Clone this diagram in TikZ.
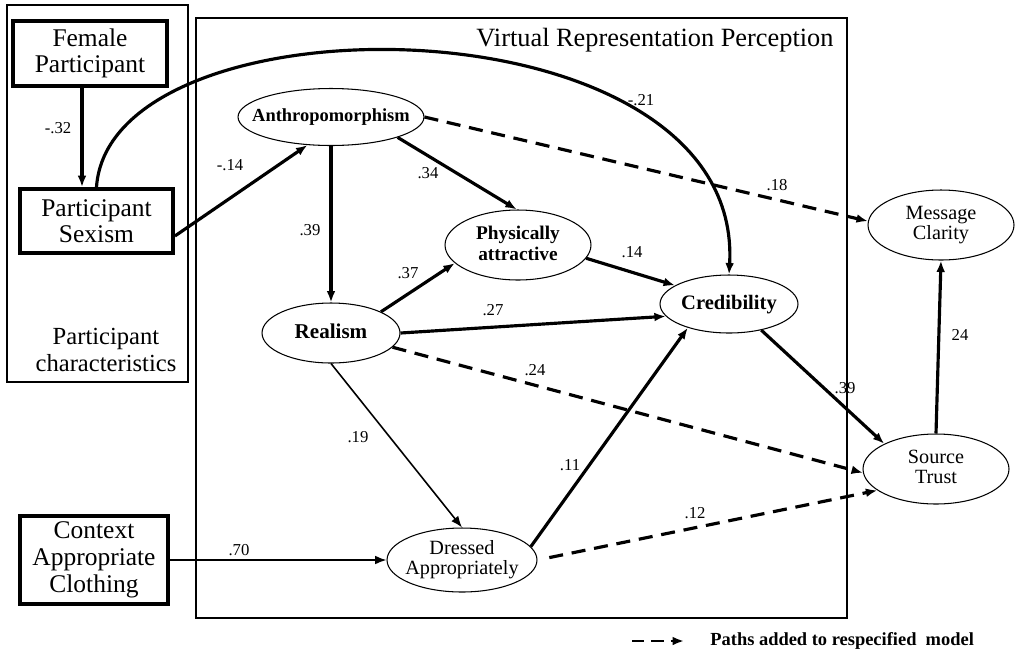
\documentclass[tikz,border=0pt]{standalone}
\usepackage{fontspec}
\setmainfont{Liberation Serif}
\usetikzlibrary{arrows.meta,calc,shapes.geometric}
\newcommand{\ztxt}[1]{\makebox[0pt]{\smash{\raisebox{-.3em}{\begin{tabular}{@{}c@{}}#1\end{tabular}}}}}
\begin{document}
\begin{tikzpicture}[x=0.02cm,y=-0.02cm,
 box/.style={draw,line width=2.2pt,align=center,inner sep=0,font=\fontsize{14.5}{14.5}\selectfont},
 ell/.style={draw,ellipse,line width=0.6pt,inner sep=0,font=\fontsize{11.5}{11.5}\selectfont},
 ellb/.style={ell,font=\fontsize{11}{11.5}\selectfont\bfseries},
 lab/.style={font=\fontsize{9.5}{9.5}\selectfont,inner sep=0},
 tip/.style={-{Latex[length=6.5pt,width=5pt]}},
 thk/.style={tip,line width=1.8pt},
 thn/.style={tip,line width=0.9pt},
 dsh/.style={tip,line width=1.8pt,dash pattern=on 8pt off 5pt},
 frame/.style={draw,line width=0.8pt}
]
\useasboundingbox (0,0) rectangle (1017,650);
% frames
\draw[frame] (7,5) rectangle (188,382);
\draw[frame] (196,18) rectangle (847,618);
\node[font=\fontsize{15}{15}\selectfont,inner sep=0] (title) at (655,40) {Virtual Representation Perception};
\node[font=\fontsize{14}{15}\selectfont,align=center,inner sep=0] (pc) at (106,350) {Participant\\characteristics};
% boxes
\node[box,minimum width=3.08cm,minimum height=1.3cm] (fem) at (90,53.5) {Female\\Participant};
\node[box,minimum width=3.06cm,minimum height=1.28cm] (sex) at (96.5,221) {Participant\\Sexism};
\node[box,minimum width=2.96cm,minimum height=1.76cm,font=\fontsize{14.5}{15.5}\selectfont] (ctx) at (94,560) {Context\\Appropriate\\Clothing};
% ellipses
\node[ellb,font=\fontsize{10.5}{11}\selectfont\bfseries,minimum width=3.72cm,minimum height=1.14cm] (anth) at (331,117) {\ztxt{Anthropomorphism}};
\node[ellb,font=\fontsize{12}{12}\selectfont\bfseries,minimum width=2.76cm,minimum height=1.2cm] (real) at (331,333) {\ztxt{Realism}};
\node[ellb,minimum width=2.92cm,minimum height=1.4cm] (phys) at (518,245) {\ztxt{Physically\\attractive}};
\node[ellb,font=\fontsize{11.7}{12}\selectfont\bfseries,minimum width=2.76cm,minimum height=1.16cm] (cred) at (729,304) {\ztxt{Credibility}};
\node[ell,minimum width=3.0cm,minimum height=1.28cm] (dress) at (462,560) {\ztxt{Dressed\\Appropriately}};
\node[ell,minimum width=2.92cm,minimum height=1.4cm] (trust) at (936,469) {\ztxt{Source\\Trust}};
\node[ell,minimum width=2.92cm,minimum height=1.4cm] (clar) at (941,225) {\ztxt{Message\\Clarity}};
% connectors
\coordinate (fs) at ($(fem.south)+(-8,0)$);
\draw[thk] (fs) -- (fs |- sex.north);
\coordinate (se) at ($(sex.east)+(0,15)$);
\draw[thk] (se) -- (anth.230);
\draw[thk] (sex.north) .. controls (110,-10) and (745,-5) .. (cred.north);
\draw[dsh] (anth.east) -- (clar.177);
\draw[thk] (anth.343) -- (phys.92);
\draw[thk] (anth.south) -- (real.north);
\draw[thk] (real.23) -- (phys.196);
\draw[thk] (real.east) -- (cred.191);
\draw[dsh] (real.347) -- (trust.183);
\draw[thn] (real.south) -- (dress.north);
\draw[thk] (phys.349) -- (cred.161);
\draw[thk] (dress.11) -- (cred.210);
\draw[dsh,shorten <=0.24cm] (dress.east) -- (trust.200);
\draw[thk] (cred.321) -- (trust.154);
\draw[thk] (trust.north) -- (clar.south);
\draw[thn] (ctx.east) -- (dress.west);
% labels
\node[lab] (l1) at (58,128) {-.32};
\node[lab] (l2) at (230,165) {-.14};
\node[lab] (l3) at (641,100) {-.21};
\node[lab] (l4) at (777,185) {.18};
\node[lab] (l5) at (428,173) {.34};
\node[lab] (l6) at (310,230) {.39};
\node[lab] (l7) at (408,273) {.37};
\node[lab] (l8) at (632,252) {.14};
\node[lab] (l9) at (493,310) {.27};
\node[lab] (l10) at (535,370) {.24};
\node[lab] (l11) at (358,437) {.19};
\node[lab] (l12) at (570,465) {.11};
\node[lab] (l13) at (695,513) {.12};
\node[lab] (l14) at (845,388) {.39};
\node[lab] (l15) at (960,335) {24};
\node[lab] (l16) at (239,550) {.70};
% legend
\coordinate (lg1) at (632,641);
\coordinate (lg2) at (684,641);
\draw[dsh,line width=1.5pt,dash pattern=on 7pt off 4pt] (lg1) -- (lg2);
\node[anchor=west,inner sep=0,font=\fontsize{10.5}{10.5}\selectfont\bfseries] (lgt) at (710,641) {Paths added to respecified\ \ model};
\end{tikzpicture}
\end{document}
